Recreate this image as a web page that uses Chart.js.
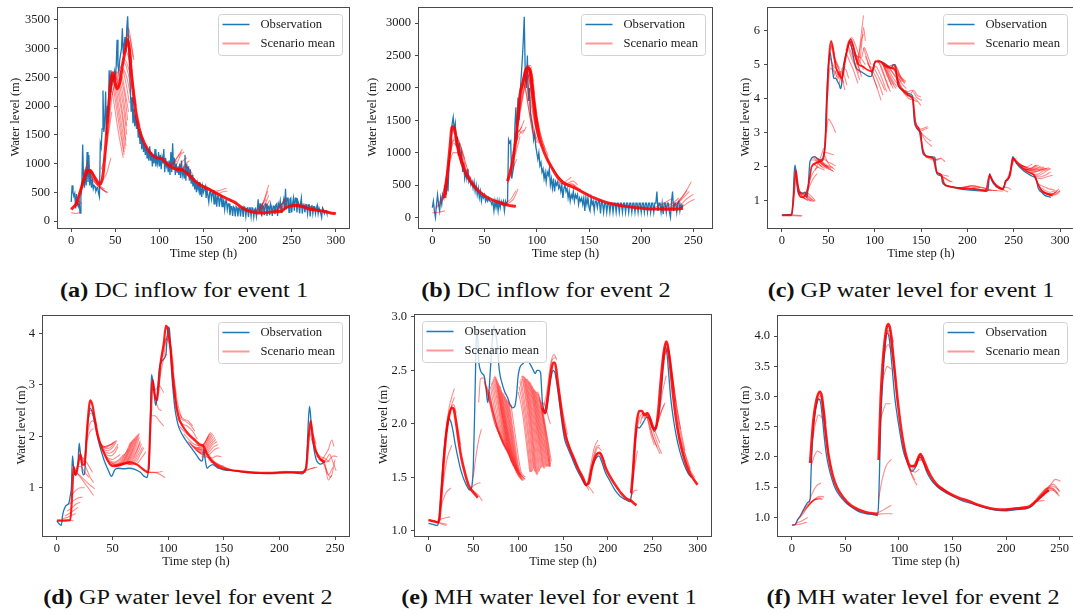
<!DOCTYPE html>
<html>
<head>
<meta charset="utf-8">
<script src="https://cdn.jsdelivr.net/npm/chart.js@4.4.1/dist/chart.umd.min.js"></script>
<style>
  html, body { margin: 0; padding: 0; background: #fff; }
  body { position: relative; width: 1073px; height: 614px; overflow: hidden; }
  canvas { position: absolute; }
  .cap { position: absolute; white-space: nowrap; font-family: 'Liberation Serif', 'Times New Roman', serif;
         font-size: 20px; line-height: 20px; color: #111; transform-origin: 50% 0; }
  .cap b { font-weight: bold; }
</style>
</head>
<body>
<script>
// ---------- tick labels ----------
const xTicks300 = [0, 50, 100, 150, 200, 250, 300];
const xTicks250 = [0, 50, 100, 150, 200, 250];
const dcInflow1YTicks = [0, 500, 1000, 1500, 2000, 2500, 3000, 3500];
const dcInflow2YTicks = [0, 500, 1000, 1500, 2000, 2500, 3000];
const gpLevel1YTicks = [1, 2, 3, 4, 5, 6];
const gpLevel2YTicks = [1, 2, 3, 4];
const mhLevel1YTicks = [1.0, 1.5, 2.0, 2.5, 3.0];
const mhLevel2YTicks = [1.0, 1.5, 2.0, 2.5, 3.0, 3.5, 4.0];

// ---------- (a) DC inflow, event 1 : hourly observation ----------
const dcInflow1Obs = [
  330,620,500,430,480,220,470,300,250,330,140,420,600,
  1330,
  700,580,900,620,1200,680,1150,620,870,580,700,560,620,600,520,560,580,480,420,
  1350,1280,1600,2270,1550,1700,2250,1500,2000,1800,2620,2250,2620,2350,2500,2450,2600,2500,2700,3150,2700,2600,2800,2900,3000,3350,2900,3050,3200,2950,3350,3560,
  3100,2700,2300,1900,2150,1700,1950,1650,1850,1600,1750,1450,1600,1350,1550,1250,1450,1200,1350,1150,1300,1100,1250,1050,1300,1050,
  1200,950,1150,1000,1250,950,1100,1000,1200,950,1150,900,1100,1000,1250,850,1100,950,1000,850,
  1050,800,1200,850,1350,900,1100,800,1000,850,950,800,1000,750,1050,800,900,750,1150,700,
  1000,800,950,700,900,650,800,600,750,550,700,500,650,550,680,450,600,420,600,500,
  550,600,400,550,550,330,500,520,380,480,500,300,480,450,250,430,420,250,400,420,
  250,380,350,200,350,350,200,300,300,100,250,250,90,250,230,80,250,230,80,230,
  230,80,240,220,70,250,230,80,220,230,70,230,230,80,230,220,70,200,220,80,
  200,380,150,300,300,80,280,250,100,300,300,90,260,260,100,300,250,90,260,260,
  120,280,300,90,300,250,350,150,300,300,380,200,560,200,400,400,150,380,400,150,
  300,400,180,400,400,150,350,300,130,300,400,130,280,280,150,280,280,130,280,280,
  80,250,280,130,250,250,130,230,280,130,230,230,130,60,230,200,130,180,180,130
];
const dcInflow1Mean = [
  [[0,200],[3,250],[6,300],[10,500],[14,700],[18,850],[21,880],[25,800],[30,680],[33,640],[36,800],[39,1300],[42,1900],[45,2450],[47,2580],[49,2450],[52,2300],[55,2400],[58,2700],[61,2950],[64,3150],[66,3000],[68,2600],[71,2150],[74,1800],[78,1550],[83,1350],[90,1180],[97,1100],[103,1080],[108,1000],[114,930],[120,900],[127,880],[133,800],[140,700],[147,620],[155,560],[165,480],[175,400],[185,330],[193,240],[200,180],[208,150],[215,140],[222,150],[230,160],[238,170],[243,230],[248,260],[255,270],[262,250],[270,210],[278,190],[286,170],[294,140],[300,130]]
];
const dcInflow1Runs = [
  [[0,150],[5,130],[10,150]],
  [[2,250],[6,330],[10,260]],
  [[4,280],[8,350],[12,300]],
  [[7,350],[12,650],[17,950]],
  [[9,420],[14,780],[19,1050]],
  [[11,500],[16,850],[21,980]],
  [[13,620],[18,900],[23,880]],
  [[14,720],[18,880],[22,900],[26,800]],
  [[16,800],[21,880],[27,720]],
  [[17,850],[21,900],[25,820],[29,700]],
  [[19,850],[24,760],[31,620]],
  [[22,780],[28,650],[35,560],[40,500]],
  [[24,740],[28,680],[33,600],[38,560]],
  [[25,700],[31,600],[37,530],[41,490]],
  [[28,660],[33,580],[38,520],[42,500]],
  [[31,640],[35,700],[40,820],[45,1100]],
  [[34,900],[38,1100],[42,1500],[46,1900]],
  [[40,1300],[43,1700],[46,2150],[50,2400]],
  [[42,1700],[45,2200],[48,2500],[52,2450]],
  [[44,2100],[47,2550],[50,2550],[54,2300]],
  [[45,2400],[49,2000],[54,1500],[59,1100]],
  [[46,2500],[50,2100],[55,1600],[60,1150]],
  [[47,2550],[51,2150],[56,1650],[60,1200]],
  [[48,2550],[52,2200],[57,1700],[61,1250]],
  [[49,2560],[53,2250],[58,1800],[62,1300]],
  [[50,2580],[54,2300],[58,1900],[62,1400]],
  [[51,2600],[55,2350],[59,2000],[63,1500]],
  [[52,2600],[56,2400],[60,2050],[63,1650]],
  [[53,2620],[57,2450],[61,2150],[64,1750]],
  [[54,2650],[58,2500],[61,2250],[65,1900]],
  [[55,2680],[59,2600],[62,2400],[66,2050]],
  [[56,2700],[59,2650],[63,2500],[67,2200]],
  [[57,2720],[60,2750],[64,2600],[68,2300]],
  [[58,2750],[61,2800],[64,2700],[68,2500]],
  [[59,2800],[62,2950],[65,2850],[69,2600]],
  [[60,2900],[63,3100],[66,3000],[69,2750]],
  [[62,3050],[64,3250],[67,3150],[70,2850]],
  [[63,3150],[65,3350],[68,3100],[71,2800]],
  [[64,3150],[67,2900],[70,2450],[74,2000]],
  [[66,2900],[70,2400],[74,1950],[78,1650]],
  [[68,2500],[72,2050],[76,1750],[80,1500]],
  [[100,1100],[105,1050],[110,1000],[115,960]],
  [[105,1050],[110,1020],[115,1000],[120,1050]],
  [[110,950],[115,1000],[120,1100],[125,1200]],
  [[113,930],[118,1050],[122,1150],[126,1250]],
  [[116,900],[120,1000],[124,1150],[128,1200]],
  [[119,880],[123,950],[127,1050],[131,1100]],
  [[122,880],[126,900],[130,1000],[134,1050]],
  [[126,870],[130,950],[134,900],[138,800]],
  [[128,860],[133,850],[138,760],[143,680]],
  [[140,700],[146,640],[152,600],[158,560]],
  [[145,650],[151,600],[157,560],[163,520]],
  [[155,560],[160,520],[166,480],[172,430]],
  [[158,540],[164,520],[170,540],[176,570]],
  [[162,500],[167,480],[172,510],[177,520]],
  [[165,470],[171,430],[177,400],[183,350]],
  [[180,350],[186,300],[192,250],[198,200]],
  [[206,160],[211,200],[216,270],[221,380]],
  [[208,150],[213,210],[218,330],[223,520]],
  [[210,150],[214,200],[219,380],[224,630]],
  [[212,150],[216,210],[220,300],[224,450]],
  [[214,140],[218,190],[222,280],[225,360]],
  [[230,170],[235,230],[239,310],[243,400]],
  [[232,170],[237,250],[241,330],[244,370]],
  [[234,175],[238,230],[242,280],[246,300]],
  [[240,180],[245,240],[250,280],[255,280]],
  [[250,270],[258,290],[265,250],[272,220]],
  [[256,260],[263,300],[270,260],[277,220]],
  [[262,260],[268,230],[275,200],[282,180]],
  [[270,220],[276,200],[283,180],[290,160]],
  [[280,190],[286,170],[293,150],[300,130]]
];

// ---------- (b) DC inflow, event 2 : hourly observation ----------
const dcInflow2Obs = [
  150,250,100,0,200,350,200,100,300,200,350,300,500,350,600,400,800,1000,1200,1450,1550,
  1350,1450,1100,1250,950,1150,900,1000,700,850,600,700,600,750,550,600,500,550,450,550,
  400,500,350,450,300,400,250,350,300,350,250,300,250,300,250,250,200,250,100,250,
  150,250,100,250,150,250,200,250,100,250,200,
  250,1200,1150,1180,600,700,800,1400,1700,1200,1850,1500,1900,2150,2400,2700,3100,2200,2000,2500,
  1800,2000,1600,1500,1400,1200,1300,1100,1000,
  900,1000,800,850,700,750,600,700,550,700,650,750,500,600,450,600,400,550,500,550,
  450,500,400,500,300,450,500,400,450,300,400,250,350,300,400,250,350,300,350,200,
  300,250,300,200,300,100,300,200,300,150,
  100,300,200,250,100,250,250,150,250,250,
  60,250,220,80,220,220,80,220,220,80,
  220,220,80,220,220,80,220,220,80,220,
  220,80,220,220,80,220,220,80,220,220,
  80,220,220,80,220,220,80,220,220,80,
  220,220,80,220,220,80,220,220,80,220,
  220,80,220,220,400,100,220,220,80,220,
  50,220,220,80,220,220,80,0,250,400,
  100,220,220,80,220,250,100,200,150,200
];
const dcInflow2Mean = [
  [[12,300],[14,600],[17,1100],[19,1400],[21,1380],[24,1100],[28,850],[33,650],[40,480],[48,360],[56,280],[64,230],[72,190],[80,170]],
  [[72,560],[76,800],[80,1200],[84,1900],[87,2100],[90,2300],[93,2300],[96,1900],[100,1400],[105,1100],[110,900],[115,750],[120,620],[125,540],[130,500],[137,450],[145,380],[155,300],[165,240],[175,200],[185,170],[195,150],[205,135],[215,130],[225,125],[235,130],[240,140]]
];
const dcInflow2Runs = [
  [[0,70],[6,80],[12,100]],
  [[3,140],[8,220],[13,380]],
  [[5,180],[10,330],[15,600]],
  [[8,280],[12,480],[16,850]],
  [[10,350],[14,700],[18,1050]],
  [[12,480],[15,800],[19,1200]],
  [[14,620],[17,950],[20,1150],[24,1100]],
  [[15,700],[18,1050],[22,1250],[26,1100]],
  [[16,800],[20,1000],[24,1000],[28,850]],
  [[18,1150],[22,1200],[26,1050],[30,800]],
  [[20,1350],[23,1250],[27,1100],[31,900]],
  [[22,1250],[25,1200],[29,1000],[33,780]],
  [[24,1100],[27,1050],[31,850],[35,700]],
  [[25,1000],[29,900],[33,700],[37,600]],
  [[28,900],[32,750],[36,620],[40,520]],
  [[68,200],[72,240],[76,300],[80,410]],
  [[70,190],[74,230],[78,290],[82,440]],
  [[72,520],[75,650],[78,800],[81,900]],
  [[74,700],[77,850],[80,1000],[84,1250]],
  [[76,900],[79,1100],[82,1300],[86,1400]],
  [[77,1000],[80,1150],[84,1300],[88,1350]],
  [[78,1100],[81,1300],[84,1350],[88,1500]],
  [[79,1200],[82,1350],[86,1300],[90,1400]],
  [[80,1250],[83,1500],[86,1800],[90,2100],[94,2250]],
  [[81,1400],[84,1650],[88,2000],[92,2250],[96,2200]],
  [[82,1500],[85,1800],[89,2100],[93,2300],[97,2100]],
  [[83,1600],[86,1950],[90,2250],[94,2350],[98,1900]],
  [[84,1850],[87,2100],[90,2300],[94,2300],[98,1700]],
  [[85,1950],[88,2200],[91,2350],[95,2150],[99,1650]],
  [[86,2050],[89,2000],[92,1700],[96,1350],[100,1150]],
  [[86,2100],[89,2250],[92,2200],[96,1800],[100,1350]],
  [[87,2150],[90,1900],[93,1600],[96,1300]],
  [[88,2250],[91,2100],[94,1800],[98,1450],[102,1200]],
  [[88,2200],[91,2000],[94,1650],[98,1300],[102,1150]],
  [[89,2300],[92,2350],[95,2200],[99,1700],[103,1300]],
  [[90,2200],[93,2300],[96,2100],[100,1600]],
  [[90,2300],[93,2100],[96,1700],[100,1300],[104,1100]],
  [[91,2350],[94,2250],[97,1900],[101,1450]],
  [[92,2300],[95,2050],[98,1700],[102,1400]],
  [[93,2300],[96,1950],[99,1550],[103,1250]],
  [[94,2150],[97,1800],[100,1500],[104,1200]],
  [[96,1900],[99,1600],[103,1300],[108,1050]],
  [[98,1700],[102,1400],[106,1150],[111,950]],
  [[110,900],[115,760],[120,640],[125,560]],
  [[115,770],[120,650],[125,560],[130,510]],
  [[120,550],[124,520],[128,560],[133,620]],
  [[124,520],[128,500],[132,520],[137,480]],
  [[127,500],[131,540],[135,560],[139,500]],
  [[130,500],[134,520],[138,470],[142,430]],
  [[135,470],[140,430],[145,390],[150,350]],
  [[212,150],[218,190],[224,240],[229,290]],
  [[218,140],[224,170],[230,220],[236,300]],
  [[222,130],[228,160],[236,260],[244,420]],
  [[226,125],[232,170],[240,330],[248,550]],
  [[228,140],[234,200],[240,300],[246,400]],
  [[230,125],[236,170],[243,280],[250,360]],
  [[233,120],[239,160],[245,230],[251,280]]
];

// ---------- (c) GP water level, event 1 ----------
const gpLevel1Obs = [
  [0,0.58],[5,0.59],[10,0.6],[11,0.62],[12,1.0],[13,1.7],[14,2.05],[15,1.9],[16,1.5],[17,1.3],[18,1.2],[20,1.25],[22,1.22],[25,1.25],[26,1.15],[27,1.1],[28,1.3],[29,1.7],[30,2.1],[31,2.2],[33,2.28],[35,2.3],[38,2.25],[41,2.2],[44,2.25],[45,2.35],[46,2.5],[47,3.0],[48,3.9],[49,4.5],[50,4.95],[51,5.2],[52,5.35],[53,5.2],[54,5.0],[55,4.75],[56,4.6],[58,4.6],[60,4.5],[62,4.4],[63,4.3],[64,4.35],[65,4.6],[66,4.9],[68,5.2],[70,5.4],[72,5.6],[73,5.68],[74,5.65],[76,5.4],[78,5.1],[80,4.9],[82,4.85],[85,4.8],[88,4.75],[92,4.68],[96,4.65],[98,4.8],[100,5.05],[101,5.1],[105,5.1],[110,5.05],[115,4.95],[118,4.9],[120,5.0],[122,5.0],[123,4.9],[124,4.6],[125,4.4],[128,4.3],[132,4.22],[136,4.15],[141,4.08],[142,3.6],[143,3.3],[145,3.15],[148,3.05],[150,3.0],[151,2.6],[152,2.4],[155,2.33],[160,2.3],[165,2.28],[166,2.0],[167,1.8],[170,1.75],[172,1.72],[173,1.55],[175,1.48],[180,1.43],[185,1.4],[190,1.36],[200,1.32],[210,1.3],[220,1.28],[222,1.3],[223,1.5],[224,1.8],[225,1.7],[227,1.55],[230,1.45],[235,1.37],[238,1.33],[240,1.45],[241,1.6],[243,1.6],[245,1.7],[247,1.95],[249,2.3],[251,2.2],[253,2.1],[256,2.0],[260,1.9],[265,1.8],[270,1.72],[274,1.65],[275,1.55],[276,1.4],[278,1.3],[280,1.25],[284,1.15],[288,1.12],[290,1.1]
];
const gpLevel1Mean = [
  [[0,0.57],[10,0.57],[13,1.2],[15,1.9],[17,1.5],[19,1.15],[22,1.1],[26,1.2],[29,1.5],[32,2.0],[36,2.1],[40,2.15],[44,2.2],[47,2.8],[49,4.2],[51,5.3],[53,5.7],[55,5.5],[58,4.95],[62,4.7],[65,4.6],[68,5.1],[71,5.5],[74,5.75],[77,5.55],[80,5.2],[83,5.0],[87,4.95],[92,4.85],[97,4.8],[101,5.1],[106,5.1],[112,4.95],[118,4.9],[122,4.85],[126,4.4],[130,4.25],[136,4.1],[141,4.0],[144,3.3],[148,3.1],[152,2.5],[156,2.3],[163,2.25],[167,1.85],[172,1.75],[175,1.5],[180,1.42],[190,1.38],[200,1.36],[210,1.34],[220,1.3],[224,1.75],[227,1.6],[232,1.42],[238,1.35],[242,1.6],[246,1.75],[249,2.25],[253,2.15],[258,2.0],[265,1.85],[272,1.75],[276,1.5],[280,1.3],[288,1.18],[292,1.15]]
];
const gpLevel1Runs = [
  [[0,0.58],[10,0.57],[21,0.55]],
  [[5,0.6],[14,0.58],[22,0.56]],
  [[14,1.9],[17,1.45],[21,1.15],[25,1.05]],
  [[16,1.6],[19,1.3],[23,1.1],[28,1.0]],
  [[17,1.3],[21,1.15],[26,1.05],[31,1.0]],
  [[18,1.3],[22,1.2],[27,1.1],[32,1.0]],
  [[19,1.22],[23,1.18],[28,1.05],[33,0.98]],
  [[20,1.25],[24,1.2],[29,1.1],[35,0.98]],
  [[22,1.22],[26,1.2],[31,1.08],[35,0.98]],
  [[25,1.25],[29,1.2],[33,1.1],[36,1.0]],
  [[28,1.3],[31,1.5],[35,1.7],[38,1.8]],
  [[30,1.6],[33,1.8],[37,1.95],[40,2.0]],
  [[31,2.2],[35,2.2],[39,2.1],[43,2.0]],
  [[32,2.0],[36,2.08],[40,2.15],[44,2.2]],
  [[33,2.28],[37,2.2],[41,2.05],[46,1.95]],
  [[34,2.1],[38,2.0],[42,1.95],[46,1.9]],
  [[35,2.3],[39,2.2],[44,2.05],[49,1.95]],
  [[36,1.9],[39,2.1],[42,2.3],[45,2.55]],
  [[37,2.25],[41,2.15],[46,2.05],[51,1.95]],
  [[38,2.2],[42,2.1],[46,2.05],[50,2.0]],
  [[39,2.25],[43,2.12],[48,2.02],[53,1.95]],
  [[40,2.15],[44,2.05],[49,1.95],[55,1.88]],
  [[41,2.2],[45,2.12],[50,2.02],[55,1.98]],
  [[42,2.2],[46,2.05],[51,1.95],[56,1.85]],
  [[44,2.4],[48,2.42],[52,2.38],[56,2.35]],
  [[46,2.35],[49,2.15],[53,2.0],[57,1.92]],
  [[45,2.25],[49,2.15],[53,2.1],[58,2.02]],
  [[48,3.0],[50,3.4],[54,3.25],[58,3.0]],
  [[49,4.0],[52,4.9],[56,4.8],[61,4.6]],
  [[50,4.8],[53,5.6],[57,5.2],[62,4.9]],
  [[51,5.3],[54,5.55],[58,5.1],[62,4.85]],
  [[52,5.2],[55,5.0],[59,4.85],[63,4.7]],
  [[53,5.6],[56,5.2],[60,4.95],[64,4.7]],
  [[54,5.0],[57,4.8],[61,4.7],[65,4.5]],
  [[56,4.65],[59,4.85],[63,4.75],[67,4.45]],
  [[58,4.6],[61,4.75],[65,4.55],[68,4.25]],
  [[60,4.55],[63,4.8],[67,4.7],[70,4.4]],
  [[62,4.45],[65,4.9],[69,4.85],[72,4.6]],
  [[65,4.6],[69,5.3],[73,5.7],[77,5.5],[81,5.1]],
  [[67,5.0],[71,5.5],[75,5.8],[79,5.6],[84,5.2]],
  [[69,5.4],[72,5.7],[76,5.6],[80,5.25]],
  [[70,5.3],[73,5.1],[77,4.85],[82,4.45]],
  [[71,5.55],[74,5.4],[78,5.1],[83,4.75]],
  [[72,5.45],[75,5.2],[79,4.95],[84,4.55]],
  [[73,5.65],[76,5.45],[80,5.15],[85,4.75]],
  [[74,5.6],[77,5.35],[81,5.05],[86,4.65]],
  [[76,5.5],[79,5.35],[83,5.15],[88,4.85]],
  [[78,5.3],[81,5.25],[85,5.2],[90,5.0]],
  [[80,5.0],[83,5.3],[86,5.75],[88,5.9]],
  [[82,5.0],[84,5.5],[86,6.0],[88,6.45]],
  [[84,5.05],[86,5.6],[88,6.1],[90,5.7]],
  [[86,5.2],[89,5.5],[92,5.3],[96,5.0]],
  [[88,5.5],[92,5.15],[97,4.75],[103,4.3]],
  [[90,5.25],[95,4.9],[101,4.45],[107,3.95]],
  [[92,5.05],[97,4.85],[103,4.55],[109,4.1]],
  [[94,4.95],[99,4.9],[105,4.6],[111,4.25]],
  [[96,4.8],[101,4.95],[107,4.65],[113,4.2]],
  [[98,5.0],[103,5.1],[109,4.75],[115,4.3]],
  [[100,5.1],[105,5.05],[111,4.65],[117,4.2]],
  [[101,5.1],[106,5.1],[112,4.8],[118,4.4]],
  [[103,5.15],[108,5.05],[114,4.65],[120,4.3]],
  [[104,5.1],[109,5.0],[115,4.7],[121,4.4]],
  [[106,5.1],[111,4.95],[117,4.55],[123,4.3]],
  [[107,5.1],[112,4.95],[118,4.6],[124,4.35]],
  [[109,5.05],[114,4.9],[120,4.6],[126,4.4]],
  [[110,5.05],[115,4.95],[121,4.7],[127,4.45]],
  [[112,5.0],[117,4.85],[123,4.65],[129,4.5]],
  [[113,4.98],[118,4.9],[124,4.75],[130,4.5]],
  [[115,4.95],[120,5.0],[126,4.7],[132,4.45]],
  [[116,4.92],[121,5.0],[127,4.7],[133,4.45]],
  [[118,4.9],[123,4.95],[128,4.65],[134,4.5]],
  [[119,4.95],[123,4.85],[128,4.5],[134,4.3]],
  [[121,5.0],[125,4.6],[130,4.3],[136,4.2]],
  [[124,4.6],[128,4.35],[133,4.2],[138,4.15]],
  [[127,4.35],[132,4.15],[137,4.0],[143,3.95]],
  [[130,4.3],[135,4.15],[140,4.0],[146,3.9]],
  [[133,4.25],[138,4.1],[144,4.0],[150,3.8]],
  [[136,4.2],[140,4.25],[145,4.05],[151,3.95]],
  [[139,4.15],[142,4.25],[146,4.1],[150,4.05]],
  [[143,3.25],[147,3.1],[152,3.12],[157,3.18]],
  [[145,3.15],[149,3.05],[154,3.1],[158,3.15]],
  [[148,3.05],[152,2.95],[156,2.85],[161,2.75]],
  [[150,3.0],[154,2.8],[158,2.68],[162,2.6]],
  [[153,2.35],[158,2.25],[163,2.2],[168,2.2]],
  [[157,2.32],[162,2.25],[167,2.2],[172,2.25]],
  [[161,2.3],[166,2.22],[171,2.25],[176,2.15]],
  [[167,1.82],[171,1.78],[175,1.75],[180,1.72]],
  [[169,1.76],[173,1.7],[178,1.62],[182,1.55]],
  [[172,1.72],[176,1.68],[180,1.6],[184,1.55]],
  [[178,1.45],[186,1.4],[194,1.38],[202,1.4]],
  [[185,1.4],[193,1.38],[201,1.42],[209,1.4]],
  [[190,1.36],[198,1.42],[206,1.44],[214,1.38]],
  [[196,1.35],[204,1.45],[212,1.42],[220,1.35]],
  [[202,1.33],[210,1.4],[218,1.38],[226,1.32]],
  [[208,1.32],[216,1.33],[224,1.3],[232,1.3]],
  [[214,1.3],[222,1.32],[230,1.3],[238,1.28]],
  [[224,1.8],[227,1.62],[231,1.48],[236,1.38]],
  [[226,1.65],[230,1.5],[235,1.4],[240,1.33]],
  [[230,1.42],[235,1.35],[240,1.3],[244,1.26]],
  [[236,1.35],[240,1.4],[244,1.38],[247,1.33]],
  [[240,1.5],[243,1.65],[247,1.95],[250,2.2]],
  [[244,1.65],[247,1.9],[250,2.2],[253,2.25]],
  [[248,2.25],[253,2.15],[258,2.05],[262,2.0]],
  [[250,2.2],[255,2.05],[261,1.95],[266,1.9]],
  [[253,2.15],[258,2.05],[264,2.0],[270,2.08]],
  [[256,2.1],[261,2.0],[267,1.95],[274,2.05]],
  [[257,2.05],[262,2.0],[268,1.95],[275,2.05]],
  [[259,2.02],[264,1.97],[270,1.95],[277,2.05]],
  [[260,1.95],[266,1.92],[272,1.93],[279,2.02]],
  [[262,1.95],[268,1.9],[275,1.95],[282,2.0]],
  [[263,1.93],[269,1.9],[276,1.92],[283,1.98]],
  [[265,1.9],[271,1.88],[278,1.92],[285,1.95]],
  [[266,1.88],[272,1.85],[279,1.9],[286,1.95]],
  [[268,1.82],[274,1.85],[281,1.92],[288,1.97]],
  [[269,1.78],[275,1.78],[282,1.88],[289,1.95]],
  [[271,1.75],[277,1.75],[284,1.85],[290,1.95]],
  [[272,1.72],[278,1.7],[284,1.75],[290,1.85]],
  [[274,1.68],[279,1.65],[285,1.7],[292,1.75]],
  [[276,1.5],[282,1.42],[288,1.35],[294,1.32]],
  [[277,1.42],[283,1.32],[289,1.25],[295,1.3]],
  [[278,1.35],[284,1.25],[290,1.2],[296,1.25]],
  [[279,1.32],[285,1.22],[291,1.2],[297,1.3]],
  [[280,1.28],[286,1.22],[292,1.2],[299,1.35]],
  [[281,1.25],[287,1.2],[293,1.18],[300,1.3]],
  [[283,1.22],[289,1.18],[295,1.17],[300,1.28]]
];

// ---------- (d) GP water level, event 2 ----------
const gpLevel2Obs = [
  [0,0.35],[2,0.3],[4,0.27],[5,0.45],[6,0.55],[8,0.65],[10,0.68],[11,0.72],[12,0.85],[13,1.0],[14,1.62],[15,1.4],[16,1.25],[18,1.35],[19,1.5],[20,1.87],[21,1.7],[22,1.5],[23,1.3],[24,1.25],[25,1.3],[26,1.8],[27,2.05],[28,2.3],[30,2.55],[32,2.45],[34,2.25],[36,2.05],[38,1.85],[40,1.7],[43,1.5],[46,1.35],[49,1.22],[50,1.25],[52,1.35],[55,1.38],[60,1.37],[65,1.38],[70,1.36],[75,1.3],[78,1.23],[81,1.2],[82,1.3],[83,1.5],[84,2.4],[85,3.2],[86,3.1],[87,2.95],[88,2.7],[89,2.6],[90,2.8],[92,3.3],[94,3.45],[96,3.5],[98,3.6],[99,3.9],[100,4.12],[101,4.1],[102,3.8],[103,3.3],[104,3.0],[106,2.55],[108,2.3],[110,2.15],[115,1.95],[120,1.8],[125,1.65],[130,1.52],[131,1.55],[132,1.75],[133,1.6],[134,1.45],[135,1.38],[137,1.42],[140,1.45],[145,1.38],[150,1.35],[160,1.33],[170,1.3],[180,1.28],[190,1.28],[200,1.3],[210,1.3],[220,1.27],[222,1.3],[224,1.45],[225,1.8],[226,2.3],[227,2.58],[228,2.4],[229,2.1],[231,1.75],[233,1.55],[235,1.48],[237,1.46],[240,1.5]
];
const gpLevel2Mean = [
  [[0,0.36],[12,0.37],[14,1.0],[15,1.4],[17,1.25],[19,1.45],[21,1.65],[23,1.45],[25,1.45],[27,2.1],[29,2.6],[30,2.7],[32,2.6],[34,2.35],[37,2.0],[40,1.8],[44,1.6],[48,1.45],[52,1.42],[58,1.45],[65,1.5],[72,1.45],[78,1.35],[82,1.3],[84,2.2],[86,3.1],[88,2.8],[90,2.7],[93,3.4],[96,3.8],[98,4.15],[100,4.05],[102,3.7],[104,3.2],[106,2.8],[109,2.4],[113,2.2],[118,2.05],[123,1.95],[128,1.85],[132,1.8],[135,1.65],[140,1.5],[146,1.4],[155,1.35],[165,1.32],[175,1.3],[190,1.29],[205,1.3],[220,1.3],[224,1.38],[226,1.9],[228,2.3],[230,2.0],[233,1.7],[237,1.55],[241,1.5]]
];
const gpLevel2Runs = [
  [[0,0.37],[5,0.37],[10,0.37],[15,0.36]],
  [[5,0.4],[9,0.42],[13,0.46],[17,0.5]],
  [[7,0.45],[11,0.5],[15,0.56],[19,0.62]],
  [[9,0.55],[13,0.6],[17,0.68],[21,0.72]],
  [[11,0.68],[15,0.75],[19,0.8],[23,0.82]],
  [[13,0.85],[17,0.95],[21,1.0],[25,1.0]],
  [[14,1.45],[18,1.3],[23,1.15],[28,1.0],[33,0.85]],
  [[16,1.3],[20,1.25],[25,1.15],[30,1.05],[34,0.98]],
  [[18,1.4],[21,1.42],[25,1.3],[29,1.2]],
  [[20,1.75],[23,1.55],[26,1.4],[30,1.2],[33,1.1]],
  [[22,1.6],[25,1.55],[28,1.45],[32,1.3]],
  [[24,1.5],[27,1.9],[30,2.1],[33,2.15]],
  [[26,1.85],[29,2.2],[32,2.3],[35,2.25]],
  [[27,2.2],[30,2.45],[33,2.4],[36,2.2]],
  [[29,2.5],[32,2.5],[35,2.2],[38,1.95]],
  [[34,2.2],[38,1.9],[42,1.8],[46,1.82],[50,1.85]],
  [[35,2.1],[39,1.88],[43,1.8],[47,1.83],[51,1.88]],
  [[36,2.0],[40,1.82],[44,1.78],[48,1.83],[52,1.9]],
  [[37,1.92],[41,1.8],[45,1.76],[49,1.8],[53,1.92]],
  [[38,1.85],[42,1.75],[46,1.72],[50,1.78],[54,1.92]],
  [[39,1.8],[43,1.7],[47,1.67],[51,1.72],[55,1.85]],
  [[40,1.75],[44,1.65],[48,1.62],[52,1.68],[55,1.8]],
  [[42,1.65],[46,1.58],[50,1.55],[54,1.6],[57,1.65]],
  [[44,1.58],[48,1.52],[52,1.5],[56,1.55],[60,1.65]],
  [[46,1.52],[50,1.48],[55,1.5],[60,1.62],[64,1.75]],
  [[48,1.5],[52,1.46],[57,1.5],[62,1.68],[66,1.88]],
  [[49,1.47],[53,1.45],[58,1.5],[63,1.68],[67,1.9]],
  [[50,1.45],[54,1.43],[59,1.5],[64,1.7],[68,1.93]],
  [[51,1.45],[55,1.43],[60,1.51],[65,1.72],[69,1.95]],
  [[52,1.45],[56,1.44],[61,1.52],[66,1.73],[70,1.97]],
  [[53,1.45],[57,1.44],[62,1.52],[67,1.74],[71,2.0]],
  [[54,1.46],[58,1.45],[63,1.53],[68,1.75],[72,2.02]],
  [[55,1.46],[59,1.45],[64,1.54],[69,1.77],[73,2.04]],
  [[56,1.47],[60,1.46],[65,1.55],[70,1.78],[74,2.06]],
  [[57,1.47],[61,1.46],[66,1.55],[71,1.77],[74,1.98]],
  [[58,1.48],[62,1.47],[67,1.55],[72,1.75],[75,1.92]],
  [[59,1.48],[63,1.47],[68,1.54],[72,1.72],[75,1.88]],
  [[60,1.48],[64,1.47],[69,1.53],[73,1.7],[76,1.85]],
  [[61,1.47],[65,1.46],[70,1.52],[74,1.67],[77,1.8]],
  [[62,1.47],[66,1.46],[71,1.5],[75,1.65],[78,1.78]],
  [[64,1.46],[68,1.45],[72,1.47],[76,1.58],[80,1.7]],
  [[80,1.3],[85,1.3],[90,1.3],[95,1.32]],
  [[82,1.3],[86,1.3],[91,1.28],[97,1.2]],
  [[84,2.4],[88,2.4],[92,2.3],[96,2.2]],
  [[85,2.9],[88,2.9],[92,2.98],[96,2.85]],
  [[86,3.1],[88,2.8],[91,2.55],[94,2.5]],
  [[90,2.8],[93,3.2],[96,3.5],[99,3.6]],
  [[92,3.3],[95,3.65],[98,3.9],[101,3.8]],
  [[94,3.45],[97,3.8],[100,3.95],[103,3.6]],
  [[96,3.55],[99,3.95],[102,3.85],[105,3.3]],
  [[98,3.9],[101,3.85],[104,3.3],[107,2.8]],
  [[100,4.05],[102,3.7],[105,3.0],[108,2.55]],
  [[102,3.8],[105,3.2],[108,2.7],[112,2.35]],
  [[104,3.0],[108,2.55],[113,2.35],[118,2.3],[122,2.2]],
  [[106,2.6],[110,2.38],[115,2.3],[120,2.22],[124,2.1]],
  [[108,2.35],[112,2.25],[117,2.2],[122,2.1],[126,1.95]],
  [[110,2.2],[114,2.1],[119,2.0],[124,1.9],[128,1.8]],
  [[114,2.05],[118,1.95],[123,1.85],[128,1.82],[132,1.85]],
  [[118,1.9],[122,1.82],[127,1.78],[132,1.85],[136,2.0]],
  [[119,1.88],[123,1.8],[128,1.77],[133,1.88],[137,2.05]],
  [[120,1.85],[124,1.78],[129,1.75],[134,1.9],[138,2.08]],
  [[121,1.82],[125,1.76],[130,1.75],[135,1.9],[139,2.07]],
  [[122,1.8],[126,1.74],[131,1.74],[136,1.9],[140,2.05]],
  [[123,1.78],[127,1.72],[132,1.73],[137,1.89],[141,2.02]],
  [[124,1.75],[128,1.7],[133,1.72],[138,1.88],[142,1.98]],
  [[125,1.73],[129,1.68],[134,1.71],[139,1.86],[143,1.94]],
  [[126,1.72],[130,1.67],[135,1.7],[140,1.84],[144,1.9]],
  [[127,1.7],[131,1.65],[136,1.68],[141,1.8],[145,1.84]],
  [[128,1.68],[132,1.63],[137,1.65],[142,1.75],[146,1.78]],
  [[130,1.6],[134,1.6],[139,1.58],[144,1.62],[148,1.6]],
  [[132,1.75],[136,1.65],[141,1.52],[146,1.45],[150,1.42]],
  [[134,1.62],[138,1.55],[143,1.48],[148,1.42],[152,1.4]],
  [[136,1.55],[140,1.5],[145,1.44],[150,1.4],[154,1.38]],
  [[138,1.5],[142,1.47],[147,1.42],[152,1.38],[156,1.36]],
  [[150,1.36],[165,1.32],[180,1.29],[195,1.28]],
  [[175,1.3],[188,1.27],[200,1.28],[212,1.3]],
  [[195,1.28],[205,1.32],[215,1.31],[224,1.3]],
  [[210,1.3],[218,1.3],[226,1.35],[232,1.4]],
  [[222,1.32],[226,1.36],[230,1.38],[234,1.4]],
  [[225,1.9],[227,2.15],[230,2.05],[233,1.85]],
  [[227,2.1],[229,1.95],[232,1.75],[236,1.6]],
  [[229,1.95],[232,1.75],[236,1.62],[240,1.58],[245,1.5]],
  [[231,1.75],[235,1.6],[240,1.52],[244,1.25],[248,1.4]],
  [[233,1.62],[237,1.55],[241,1.4],[244,1.15],[247,1.25]],
  [[235,1.55],[239,1.52],[243,1.3],[246,1.2],[250,1.55]],
  [[237,1.52],[240,1.6],[244,1.75],[247,1.93],[249,1.8]],
  [[239,1.5],[242,1.55],[245,1.65],[248,1.5],[251,1.33]],
  [[241,1.5],[244,1.52],[247,1.6],[249,1.62],[252,1.6]]
];

// ---------- (e) MH water level, event 1 ----------
const mhLevel1Obs = [
  [0,1.07],[5,1.06],[10,1.05],[11,1.07],[12,1.12],[14,1.35],[16,1.6],[18,1.8],[20,1.92],[22,2.02],[23,2.05],[25,2.02],[27,1.95],[30,1.8],[33,1.68],[36,1.57],[40,1.47],[44,1.4],[46,1.38],[48,1.4],[50,1.6],[52,2.3],[53,2.7],[54,2.88],[55,2.8],[56,2.6],[58,2.5],[60,2.47],[62,2.45],[64,2.35],[66,2.2],[67,2.25],[69,2.5],[71,2.75],[73,2.92],[75,2.85],[77,2.7],[79,2.5],[82,2.38],[85,2.3],[88,2.25],[91,2.18],[94,2.15],[96,2.16],[98,2.25],[100,2.45],[102,2.53],[105,2.56],[108,2.58],[111,2.58],[114,2.55],[117,2.5],[119,2.47],[121,2.5],[123,2.5],[125,2.48],[126,2.35],[127,2.2],[129,2.12],[131,2.1],[133,2.2],[135,2.35],[137,2.45],[139,2.5],[141,2.48],[143,2.38],[146,2.2],[149,2.0],[152,1.85],[155,1.78],[160,1.68],[165,1.58],[170,1.5],[176,1.42],[178,1.45],[181,1.55],[184,1.63],[187,1.68],[190,1.7],[193,1.65],[197,1.55],[202,1.47],[208,1.38],[214,1.32],[220,1.29],[225,1.27],[227,1.4],[229,1.65],[231,1.9],[233,1.97],[235,1.96],[237,1.98],[240,2.02],[243,2.06],[246,2.05],[249,1.98],[252,1.93],[254,1.98],[257,2.1],[260,2.35],[262,2.6],[264,2.72],[266,2.65],[268,2.45],[270,2.25],[273,2.05],[276,1.9],[280,1.75],[285,1.62],[290,1.53],[293,1.5]
];
const mhLevel1Mean = [
  [[0,1.1],[6,1.09],[10,1.08],[12,1.1],[14,1.3],[17,1.65],[20,1.92],[23,2.08],[26,2.15],[28,2.14],[31,2.0],[34,1.82],[37,1.67],[41,1.53],[45,1.42],[48,1.38],[52,1.34],[55,1.31]],
  [[127,2.15],[130,2.1],[133,2.25],[136,2.45],[139,2.57],[141,2.57],[144,2.4],[147,2.2],[150,2.02],[153,1.88],[157,1.78],[162,1.68],[167,1.58],[172,1.5],[176,1.43],[179,1.45],[182,1.58],[185,1.67],[188,1.72],[191,1.73],[194,1.68],[198,1.58],[203,1.5],[209,1.42],[215,1.35],[221,1.3],[226,1.28],[230,1.25],[232,1.24]],
  [[226,1.35],[228,1.55],[230,1.8],[232,2.0],[235,2.12],[238,2.12],[241,2.08],[244,2.1],[247,2.05],[250,1.97],[253,1.95],[256,2.1],[259,2.4],[262,2.65],[265,2.77],[267,2.72],[270,2.5],[273,2.25],[276,2.05],[280,1.85],[285,1.68],[290,1.56],[295,1.49],[300,1.43]]
];
const mhLevel1Runs = [
  [[0,1.1],[6,1.09],[12,1.07],[20,1.05]],
  [[5,1.09],[10,1.08],[15,1.07],[21,1.06]],
  [[10,1.1],[14,1.11],[18,1.12],[24,1.13]],
  [[12,1.15],[16,1.28],[20,1.36],[25,1.4]],
  [[13,1.2],[17,1.48],[21,1.68],[26,1.8]],
  [[14,1.3],[18,1.75],[22,2.02],[26,2.18],[29,2.25]],
  [[15,1.42],[19,1.9],[23,2.15],[27,2.28],[29,2.33]],
  [[17,1.65],[20,1.95],[24,2.12],[28,2.18],[31,2.1]],
  [[20,1.92],[24,2.1],[28,2.15],[32,2.0],[36,1.8]],
  [[46,1.38],[50,1.42],[54,1.44],[58,1.45]],
  [[48,1.38],[52,1.36],[56,1.33],[60,1.28]],
  [[50,1.5],[53,1.7],[56,1.85],[59,1.95]],
  [[56,2.2],[58,2.42],[61,2.43],[66,2.3],[72,2.1],[78,1.95],[85,1.8],[92,1.66],[100,1.55],[108,1.48]],
  [[62,2.4],[68,2.2],[74,2.0],[80,1.9]],
  [[63,2.38],[69,2.18],[75,1.98],[81,1.87]],
  [[65,2.35],[71,2.15],[77,1.95],[83,1.82]],
  [[67,2.32],[72,2.12],[78,1.92],[84,1.8]],
  [[68,2.3],[73,2.1],[79,1.9],[85,1.78]],
  [[69,2.35],[74,2.12],[80,1.9],[86,1.76]],
  [[70,2.38],[75,2.15],[81,1.9],[87,1.75]],
  [[71,2.4],[76,2.18],[82,1.9],[88,1.73]],
  [[72,2.42],[77,2.2],[83,1.9],[89,1.72]],
  [[73,2.44],[78,2.2],[84,1.89],[90,1.7]],
  [[74,2.45],[79,2.2],[85,1.88],[91,1.68]],
  [[75,2.44],[80,2.18],[86,1.86],[92,1.65]],
  [[76,2.42],[81,2.15],[87,1.85],[93,1.63]],
  [[77,2.4],[82,2.12],[88,1.82],[94,1.61]],
  [[78,2.38],[83,2.1],[89,1.8],[95,1.6]],
  [[79,2.36],[84,2.07],[90,1.78],[96,1.58]],
  [[80,2.35],[85,2.05],[91,1.76],[97,1.56]],
  [[81,2.32],[86,2.02],[92,1.74],[98,1.54]],
  [[82,2.3],[87,2.0],[93,1.72],[99,1.53]],
  [[83,2.29],[88,1.98],[94,1.7],[100,1.51]],
  [[84,2.28],[89,1.97],[95,1.68],[101,1.5]],
  [[85,2.26],[90,1.96],[96,1.66],[102,1.49]],
  [[86,2.25],[91,1.95],[97,1.64],[103,1.48]],
  [[87,2.23],[92,1.93],[98,1.62],[104,1.47]],
  [[88,2.22],[93,1.92],[99,1.6],[105,1.47]],
  [[89,2.21],[94,1.91],[100,1.59],[106,1.47]],
  [[90,2.2],[95,1.9],[101,1.58],[107,1.48]],
  [[92,2.18],[97,1.88],[103,1.56],[108,1.5]],
  [[100,2.3],[104,2.15],[108,1.9],[113,1.55]],
  [[101,2.35],[105,2.18],[109,1.92],[114,1.55]],
  [[102,2.4],[106,2.2],[110,1.95],[115,1.55]],
  [[103,2.42],[107,2.22],[111,1.96],[116,1.56]],
  [[104,2.45],[108,2.25],[112,1.98],[117,1.58]],
  [[105,2.45],[109,2.25],[113,1.98],[118,1.56]],
  [[106,2.45],[110,2.25],[114,1.98],[119,1.55]],
  [[107,2.44],[111,2.23],[115,1.96],[120,1.53]],
  [[108,2.43],[112,2.22],[116,1.95],[121,1.52]],
  [[109,2.42],[113,2.21],[117,1.95],[122,1.53]],
  [[110,2.42],[114,2.2],[118,1.95],[123,1.55]],
  [[111,2.41],[115,2.2],[119,1.95],[124,1.56]],
  [[112,2.4],[116,2.2],[120,1.95],[125,1.58]],
  [[113,2.39],[117,2.19],[121,1.94],[126,1.59]],
  [[114,2.38],[118,2.18],[122,1.93],[127,1.6]],
  [[115,2.36],[119,2.16],[123,1.91],[128,1.59]],
  [[116,2.35],[120,2.15],[124,1.9],[129,1.58]],
  [[117,2.33],[121,2.13],[125,1.89],[130,1.59]],
  [[118,2.32],[122,2.12],[126,1.88],[131,1.6]],
  [[119,2.31],[123,2.11],[127,1.87],[132,1.6]],
  [[120,2.3],[124,2.1],[128,1.87],[133,1.6]],
  [[121,2.3],[125,2.1],[129,1.86],[134,1.6]],
  [[122,2.3],[126,2.1],[130,1.86],[135,1.6]],
  [[123,2.28],[127,2.08],[131,1.85],[135,1.6]],
  [[124,2.25],[128,2.05],[132,1.83],[136,1.6]],
  [[125,2.22],[129,2.02],[133,1.82],[136,1.62]],
  [[126,2.2],[130,2.0],[134,1.8],[137,1.65]],
  [[128,2.2],[131,2.15],[134,2.05],[136,2.0]],
  [[128,2.15],[132,2.3],[136,2.55],[140,2.65],[143,2.6]],
  [[130,2.12],[134,2.35],[138,2.6],[142,2.62]],
  [[142,2.45],[146,2.3],[150,2.1],[155,1.9]],
  [[145,2.3],[150,2.05],[155,1.85],[160,1.7]],
  [[150,2.0],[155,1.85],[160,1.72],[166,1.6]],
  [[160,1.7],[165,1.62],[170,1.52],[175,1.45]],
  [[168,1.55],[172,1.48],[176,1.42],[179,1.38]],
  [[170,1.5],[175,1.44],[180,1.4],[184,1.35]],
  [[177,1.43],[181,1.62],[185,1.78],[189,1.85]],
  [[179,1.47],[183,1.65],[187,1.78],[191,1.8]],
  [[181,1.55],[185,1.7],[189,1.78],[193,1.75]],
  [[184,1.62],[188,1.72],[192,1.72],[196,1.65]],
  [[225,1.3],[229,1.37],[233,1.38]],
  [[227,1.4],[230,1.6],[233,1.75]],
  [[228,1.6],[231,1.85],[235,2.05],[239,2.1]],
  [[236,2.0],[240,2.1],[244,2.05],[248,1.9],[252,1.8]],
  [[238,2.05],[242,2.1],[246,2.0],[250,1.88],[255,1.78]],
  [[240,2.05],[244,2.08],[248,1.95],[253,1.82],[258,1.72]],
  [[243,2.08],[247,2.03],[251,1.92],[256,1.8],[260,1.72]],
  [[246,2.08],[250,2.0],[254,1.9],[258,1.82]],
  [[249,1.98],[253,1.96],[257,2.05],[261,2.15],[264,2.2]],
  [[251,1.95],[255,2.0],[259,2.1],[263,2.18]],
  [[253,1.94],[257,2.08],[261,2.3],[265,2.45]],
  [[258,2.2],[262,2.55],[265,2.7],[268,2.65],[272,2.4]],
  [[260,2.35],[263,2.6],[266,2.72],[270,2.6],[274,2.3]],
  [[262,2.55],[265,2.75],[268,2.7],[272,2.45],[276,2.2]],
  [[264,2.65],[267,2.7],[271,2.5],[276,2.2],[281,1.95]],
  [[266,2.7],[270,2.55],[275,2.25],[280,2.0],[286,1.75]],
  [[270,2.5],[275,2.2],[280,1.95],[286,1.72],[292,1.55]],
  [[276,2.0],[281,1.85],[286,1.72],[292,1.58]],
  [[282,1.78],[287,1.65],[292,1.56],[297,1.5]]
];

// ---------- (f) MH water level, event 2 ----------
const mhLevel2Obs = [
  [0,0.87],[3,0.88],[5,0.95],[8,1.03],[10,1.1],[13,1.2],[15,1.25],[17,1.3],[18,1.8],[19,2.2],[20,2.45],[22,2.78],[24,2.93],[25,2.96],[27,2.88],[29,2.55],[31,2.2],[33,1.95],[36,1.72],[40,1.5],[45,1.35],[50,1.25],[55,1.18],[60,1.12],[65,1.08],[70,1.06],[75,1.05],[80,1.03],[81,1.25],[82,1.9],[83,2.6],[85,3.3],[87,3.8],[89,4.05],[91,3.95],[93,3.6],[96,3.0],[100,2.5],[104,2.1],[108,1.9],[112,1.76],[116,1.85],[119,2.0],[122,1.95],[126,1.75],[130,1.62],[135,1.52],[140,1.45],[150,1.35],[160,1.27],[170,1.22],[180,1.16],[190,1.12],[200,1.11],[210,1.13],[220,1.15],[225,1.2],[230,1.3],[235,1.38],[240,1.45]
];
const mhLevel2Mean = [
  [[17,1.9],[20,2.6],[23,2.95],[26,3.08],[28,3.0],[31,2.5],[34,2.05],[38,1.7],[42,1.5],[48,1.33],[55,1.2],[62,1.13],[70,1.08],[80,1.06]],
  [[81,1.95],[83,3.0],[85,3.6],[88,4.1],[90,4.2],[92,4.1],[95,3.6],[99,2.9],[103,2.35],[107,2.0],[111,1.85],[115,1.85],[118,1.98],[120,2.05],[123,1.95],[127,1.78],[132,1.62],[138,1.5],[145,1.42],[155,1.33],[165,1.27],[175,1.2],[185,1.15],[195,1.13],[205,1.14],[215,1.16],[222,1.18],[228,1.27],[235,1.38],[240,1.45]]
];
const mhLevel2Runs = [
  [[0,0.88],[5,0.88],[10,0.9],[14,0.92]],
  [[3,0.9],[8,0.93],[12,0.97],[15,1.0]],
  [[5,0.95],[10,1.05],[15,1.18],[20,1.28],[24,1.3]],
  [[8,1.03],[12,1.12],[17,1.22],[22,1.3],[27,1.33]],
  [[10,1.1],[14,1.17],[19,1.26],[24,1.32],[29,1.3]],
  [[12,1.15],[16,1.22],[21,1.3],[26,1.35],[30,1.34]],
  [[14,1.2],[18,1.26],[23,1.3],[28,1.3]],
  [[16,1.25],[19,1.4],[23,1.52],[27,1.57]],
  [[18,1.85],[21,2.02],[24,2.1],[28,2.05]],
  [[19,2.25],[22,2.55],[25,2.7],[28,2.65]],
  [[20,2.5],[23,2.85],[26,3.0],[29,2.9],[32,2.55]],
  [[22,2.8],[25,3.05],[28,2.95],[31,2.55],[34,2.1]],
  [[24,2.95],[27,2.95],[30,2.6],[33,2.15],[37,1.8]],
  [[78,1.06],[83,1.1],[88,1.15],[93,1.2]],
  [[80,1.05],[85,1.06],[90,1.06],[94,1.06]],
  [[81,1.3],[84,1.6],[88,1.85],[93,1.96]],
  [[82,2.6],[85,2.75],[88,2.88],[92,2.88]],
  [[83,3.1],[86,3.35],[89,3.5],[93,3.45]],
  [[84,3.5],[87,3.75],[90,3.86],[94,3.7]],
  [[85,3.7],[88,4.0],[91,4.1],[95,3.9]],
  [[87,3.9],[90,4.18],[93,3.95],[97,3.3]],
  [[89,4.1],[92,3.95],[95,3.5],[99,2.85]],
  [[104,2.2],[107,1.95],[111,1.75],[115,1.62]],
  [[106,2.0],[109,1.85],[113,1.65],[117,1.53]],
  [[108,1.9],[111,1.8],[115,1.75],[119,1.8]],
  [[110,1.82],[113,1.85],[117,1.95],[121,2.0]],
  [[112,1.78],[115,1.88],[119,2.05],[123,1.98]],
  [[114,1.82],[117,1.95],[121,1.95],[125,1.82]],
  [[116,1.88],[119,2.0],[123,1.9],[127,1.75]],
  [[118,1.95],[121,1.95],[125,1.8],[129,1.68]],
  [[133,1.56],[137,1.52],[141,1.47],[146,1.4]],
  [[136,1.52],[140,1.5],[144,1.43],[148,1.37]],
  [[139,1.5],[143,1.45],[147,1.4],[151,1.36]],
  [[195,1.12],[203,1.14],[211,1.16],[219,1.15]],
  [[200,1.12],[208,1.15],[215,1.15],[221,1.16]],
  [[222,1.2],[226,1.24],[231,1.27],[236,1.28]],
  [[226,1.25],[230,1.32],[235,1.4],[240,1.45],[245,1.45]],
  [[228,1.3],[233,1.4],[238,1.48],[243,1.48],[248,1.4]],
  [[230,1.33],[235,1.43],[240,1.5],[244,1.48],[249,1.38]],
  [[232,1.36],[237,1.45],[242,1.47],[246,1.42],[250,1.35]],
  [[234,1.38],[238,1.48],[242,1.55],[246,1.63],[251,1.6]],
  [[236,1.42],[240,1.5],[244,1.55],[248,1.48],[250,1.42]],
  [[238,1.45],[242,1.52],[246,1.5],[250,1.44]]
];

// ---------- styling ----------
const FONT = "'Liberation Serif', 'Times New Roman', serif";
const TEXT_COLOR = '#1a1a1a';
const AXIS_COLOR = '#4a4a4a';
const OBS_COLOR = '#1f77b4';
const RUN_COLOR = 'rgba(255,0,0,0.45)';
const MEAN_COLOR = 'rgba(255,0,0,0.88)';
const LEGEND_RED = 'rgba(255,0,0,0.4)';
const TICK_SIZE = 12.5;
const TITLE_SIZE = 12.6;
const TITLE_LH = TITLE_SIZE * 1.2;

const hourly = vals => vals.map((v, i) => ({ x: i, y: v }));
const pairs = arr => arr.map(p => ({ x: p[0], y: p[1] }));

// frame around the plot area plus the two-entry legend box
const frameLegend = {
  id: 'frameLegend',
  afterDraw(chart, args, opts) {
    const { ctx, chartArea: a } = chart;
    ctx.save();
    ctx.strokeStyle = AXIS_COLOR;
    ctx.lineWidth = 1;
    ctx.strokeRect(Math.round(a.left) - 0.5, Math.round(a.top) + 0.5,
                   Math.round(a.right - a.left) + 1, Math.round(a.bottom - a.top) - 1);

    const w = 124, h = 41;
    const x0 = opts.side === 'left' ? Math.round(a.left) + 7.5 : Math.round(a.right) - 7 - w + 0.5;
    const y0 = Math.round(a.top) + 7.5;
    ctx.beginPath();
    if (ctx.roundRect) ctx.roundRect(x0, y0, w, h, 3); else ctx.rect(x0, y0, w, h);
    ctx.fillStyle = 'rgba(255,255,255,0.8)';
    ctx.fill();
    ctx.strokeStyle = '#d2d2d2';
    ctx.stroke();

    const rows = [
      { label: 'Observation', color: OBS_COLOR, dy: 10, lw: 1.5 },
      { label: 'Scenario mean', color: LEGEND_RED, dy: 29, lw: 2 }
    ];
    ctx.font = TITLE_SIZE + 'px ' + FONT;
    ctx.textBaseline = 'middle';
    ctx.textAlign = 'left';
    rows.forEach(r => {
      ctx.beginPath();
      ctx.strokeStyle = r.color;
      ctx.lineWidth = r.lw;
      ctx.moveTo(x0 + 4, y0 + r.dy);
      ctx.lineTo(x0 + 31, y0 + r.dy);
      ctx.stroke();
      ctx.fillStyle = TEXT_COLOR;
      ctx.fillText(r.label, x0 + 42, y0 + r.dy + 0.5);
    });
    ctx.restore();
  }
};

function polyline(points, color, width) {
  return {
    data: pairs(points), borderColor: color, borderWidth: width,
    pointRadius: 0, fill: false, cubicInterpolationMode: 'monotone'
  };
}

function buildPanel(cfg) {
  const g = cfg.geom;
  const left = Math.floor(g.yTitleX - 8);
  const top = g.T - 10;
  const right = g.R + 2;
  const bottom = Math.ceil(g.xTitleY + 8);
  const w = right - left, h = bottom - top;

  const canvas = document.createElement('canvas');
  canvas.width = w; canvas.height = h;
  canvas.style.left = left + 'px'; canvas.style.top = top + 'px';
  canvas.style.width = w + 'px'; canvas.style.height = h + 'px';
  document.body.appendChild(canvas);

  const datasets = [];
  cfg.mean.forEach(seg => datasets.push(polyline(seg, MEAN_COLOR, cfg.meanWidth)));
  cfg.runs.forEach(seg => datasets.push(polyline(seg, RUN_COLOR, 1.1)));
  datasets.push({
    data: cfg.obs, borderColor: OBS_COLOR, borderWidth: 1.3, pointRadius: 0, fill: false,
    tension: 0, cubicInterpolationMode: cfg.smoothObs ? 'monotone' : 'default'
  });

  const tickFont = { family: FONT, size: TICK_SIZE };
  const titleFont = { family: FONT, size: TITLE_SIZE };

  new Chart(canvas, {
    type: 'line',
    data: { datasets },
    plugins: [frameLegend],
    options: {
      responsive: false, animation: false, devicePixelRatio: 1,
      events: [],
      layout: { padding: { left: 0, top: g.T - top, right: right - g.R, bottom: 0 } },
      plugins: { legend: { display: false }, tooltip: { enabled: false }, frameLegend: { side: cfg.legendSide } },
      scales: {
        x: {
          type: 'linear', min: cfg.xRange[0], max: cfg.xRange[1],
          afterFit: s => { s.height = bottom - g.B; },
          afterBuildTicks: s => { s.ticks = cfg.xTicks.map(v => ({ value: v })); },
          grid: { display: true, drawOnChartArea: false, drawTicks: true, tickLength: 4, color: AXIS_COLOR, lineWidth: 1 },
          border: { display: false },
          ticks: { font: tickFont, color: TEXT_COLOR, padding: 1, maxRotation: 0, autoSkip: false,
                   callback: v => String(v) },
          title: { display: true, text: 'Time step (h)', font: titleFont, color: TEXT_COLOR,
                   padding: { top: 0, bottom: bottom - g.xTitleY - TITLE_LH / 2 } }
        },
        y: {
          type: 'linear', min: cfg.yRange[0], max: cfg.yRange[1],
          afterFit: s => { s.width = g.L - left; },
          afterBuildTicks: s => { s.ticks = cfg.yTicks.map(v => ({ value: v })); },
          grid: { display: true, drawOnChartArea: false, drawTicks: true, tickLength: 4, color: AXIS_COLOR, lineWidth: 1 },
          border: { display: false },
          ticks: { font: tickFont, color: TEXT_COLOR, padding: 4, autoSkip: false,
                   callback: v => v.toFixed(cfg.yDecimals) },
          title: { display: true, text: 'Water level (m)', font: titleFont, color: TEXT_COLOR,
                   padding: { top: g.yTitleX - left - TITLE_LH / 2, bottom: 0 } }
        }
      }
    }
  });
}

const panels = [
  { geom: { L: 58, R: 349, T: 5, B: 228, yTitleX: 15.5, xTitleY: 253.5 },
    xRange: [-15, 315], yRange: [-121, 3730], xTicks: xTicks300, yTicks: dcInflow1YTicks, yDecimals: 0,
    obs: hourly(dcInflow1Obs), mean: dcInflow1Mean, runs: dcInflow1Runs, meanWidth: 3, smoothObs: false, legendSide: 'right' },
  { geom: { L: 419, R: 712, T: 5, B: 228, yTitleX: 373, xTitleY: 253.5 },
    xRange: [-12.75, 267.75], yRange: [-164, 3258], xTicks: xTicks250, yTicks: dcInflow2YTicks, yDecimals: 0,
    obs: hourly(dcInflow2Obs), mean: dcInflow2Mean, runs: dcInflow2Runs, meanWidth: 3, smoothObs: false, legendSide: 'right' },
  { geom: { L: 768, R: 1074, T: 5, B: 228, yTitleX: 745.5, xTitleY: 253.5 },
    xRange: [-15, 315], yRange: [0.2, 6.71], xTicks: xTicks300, yTicks: gpLevel1YTicks, yDecimals: 0,
    obs: pairs(gpLevel1Obs), mean: gpLevel1Mean, runs: gpLevel1Runs, meanWidth: 1.8, smoothObs: true, legendSide: 'right' },
  { geom: { L: 43, R: 349, T: 313, B: 536, yTitleX: 21.7, xTitleY: 561.5 },
    xRange: [-12.5, 262.5], yRange: [0.063, 4.368], xTicks: xTicks250, yTicks: gpLevel2YTicks, yDecimals: 0,
    obs: pairs(gpLevel2Obs), mean: gpLevel2Mean, runs: gpLevel2Runs, meanWidth: 2.2, smoothObs: true, legendSide: 'right' },
  { geom: { L: 415, R: 711, T: 312, B: 536, yTitleX: 384, xTitleY: 561.5 },
    xRange: [-15, 315], yRange: [0.951, 3.032], xTicks: xTicks300, yTicks: mhLevel1YTicks, yDecimals: 1,
    obs: pairs(mhLevel1Obs), mean: mhLevel1Mean, runs: mhLevel1Runs, meanWidth: 2.6, smoothObs: true, legendSide: 'left' },
  { geom: { L: 778, R: 1074, T: 313, B: 536, yTitleX: 746, xTitleY: 561.5 },
    xRange: [-13, 263.5], yRange: [0.692, 4.358], xTicks: xTicks250, yTicks: mhLevel2YTicks, yDecimals: 1,
    obs: pairs(mhLevel2Obs), mean: mhLevel2Mean, runs: mhLevel2Runs, meanWidth: 2.6, smoothObs: true, legendSide: 'right' }
];
panels.forEach(buildPanel);

// ---------- sub-figure captions ----------
const captions = [
  { tag: '(a)', text: 'DC inflow for event 1', cx: 184, top: 279.5 },
  { tag: '(b)', text: 'DC inflow for event 2', cx: 545.5, top: 279.5 },
  { tag: '(c)', text: 'GP water level for event 1', cx: 911, top: 279.5 },
  { tag: '(d)', text: 'GP water level for event 2', cx: 188, top: 587 },
  { tag: '(e)', text: 'MH water level for event 1', cx: 549, top: 587 },
  { tag: '(f)', text: 'MH water level for event 2', cx: 912.5, top: 587 }
];
const capEls = captions.map(c => {
  const el = document.createElement('div');
  el.className = 'cap';
  const b = document.createElement('b');
  b.textContent = c.tag;
  el.appendChild(b);
  el.appendChild(document.createTextNode(' ' + c.text));
  el.style.top = c.top + 'px';
  el.style.left = c.cx + 'px';
  document.body.appendChild(el);
  return el;
});
const widthA = capEls[0].getBoundingClientRect().width;
const k = 248 / widthA;
capEls.forEach(el => { el.style.transform = 'translateX(-50%) scaleX(' + k.toFixed(3) + ')'; });
</script>
</body>
</html>
